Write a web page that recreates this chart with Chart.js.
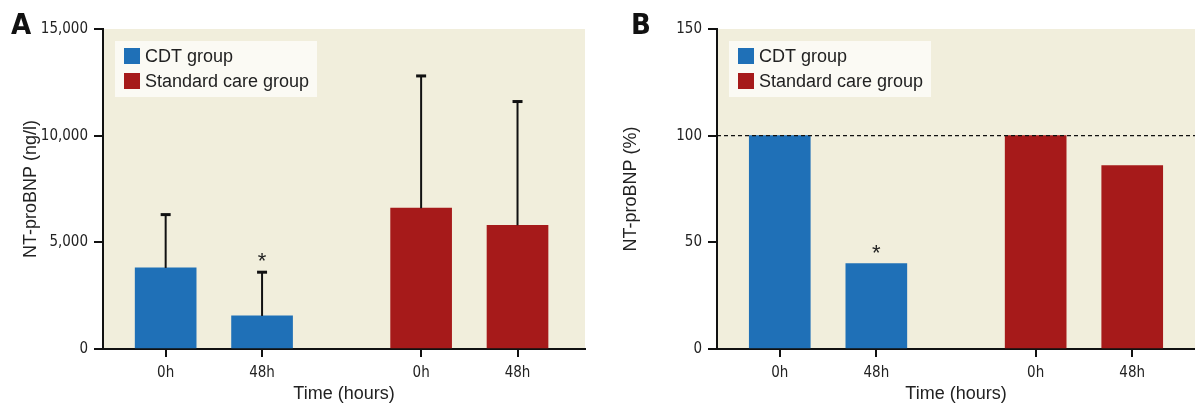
<!DOCTYPE html>
<html>
<head>
<meta charset="utf-8">
<script src="https://cdn.jsdelivr.net/npm/chart.js@4.4.0/dist/chart.umd.min.js"></script>
<style>
  body { margin: 0; background: #fff; width: 1195px; height: 407px; overflow: hidden; position: relative; }
  .panel { position: absolute; top: 0; height: 407px; }
  .tag { position: absolute; top: 7px; line-height: 1; font: bold 29px 'Liberation Sans Narrow', 'DejaVu Sans Condensed', sans-serif; color: #111; }
</style>
</head>
<body>
<div class="panel" style="left:0;width:600px"><canvas id="chartA" width="600" height="407"></canvas></div>
<div class="panel" style="left:600px;width:595px"><canvas id="chartB" width="595" height="407"></canvas></div>
<div class="tag" style="left:11px">A</div>
<div class="tag" style="left:631px">B</div>
<script>
const timepoints = ['0h', '48h'];
const groups = ['CDT group', 'Standard care group'];
const groupColors = ['#1F70B7', '#A61A1A'];

// panel A: NT-proBNP (ng/l), mean and upper SD
const cdtMeanA = [3800, 1550];
const stdMeanA = [6600, 5800];
const cdtErrA = [2500, 2050];
const stdErrA = [6200, 5800];
const cdtSigA = [false, true];
const stdSigA = [false, false];
const yTicksA = [0, 5000, 10000, 15000];

// panel B: NT-proBNP relative to 0h (%)
const cdtPctB = [100, 40];
const stdPctB = [100, 86];
const cdtSigB = [false, true];
const stdSigB = [false, false];
const yTicksB = [0, 50, 100, 150];
const refLineB = 100;

const SANS = "'Liberation Sans', Arial, sans-serif";
const NARROW = "'Liberation Sans Narrow', 'DejaVu Sans Condensed', sans-serif";
const GROUP_GAP = 2.65; // distance between the two groups on the x scale
const xPos = (g, t) => 1 + g * GROUP_GAP + t;

// plot background
const plotBg = {
  id: 'plotBg',
  beforeDraw(chart) {
    const { ctx, chartArea: a } = chart;
    ctx.save();
    ctx.fillStyle = '#F1EEDC';
    ctx.fillRect(a.left, a.top, a.right - a.left, a.bottom - a.top);
    ctx.restore();
  }
};

// error bars, asterisks and the dashed reference line
const extras = {
  id: 'extras',
  afterDatasetsDraw(chart, args, opts) {
    const { ctx, chartArea: a } = chart;
    const yScale = chart.scales.y;
    ctx.save();
    chart.data.datasets.forEach((ds, i) => {
      const meta = chart.getDatasetMeta(i);
      meta.data.forEach((bar, j) => {
        let top = bar.y;
        if (ds.errors) {
          const yTop = yScale.getPixelForValue(ds.data[j].y + ds.errors[j]);
          ctx.strokeStyle = '#111';
          ctx.lineWidth = 2;
          ctx.beginPath();
          ctx.moveTo(bar.x, bar.y);
          ctx.lineTo(bar.x, yTop);
          ctx.stroke();
          ctx.lineWidth = 3;
          ctx.beginPath();
          ctx.moveTo(bar.x - 5, yTop);
          ctx.lineTo(bar.x + 5, yTop);
          ctx.stroke();
          top = yTop;
        }
        if (ds.sig && ds.sig[j]) {
          ctx.fillStyle = '#222';
          ctx.font = '22px ' + SANS;
          ctx.textAlign = 'center';
          ctx.textBaseline = 'middle';
          ctx.fillText('*', bar.x, top - 10);
        }
      });
    });
    if (opts.ref != null) {
      const y = yScale.getPixelForValue(opts.ref);
      ctx.strokeStyle = '#111';
      ctx.lineWidth = 1.3;
      ctx.setLineDash([4, 3]);
      ctx.beginPath();
      ctx.moveTo(a.left, y);
      ctx.lineTo(a.right, y);
      ctx.stroke();
    }
    ctx.restore();
  }
};

// legend box inside the plot area
const boxLegend = {
  id: 'boxLegend',
  afterDraw(chart) {
    const { ctx, chartArea: a } = chart;
    const x = a.left + 12, y = a.top + 12;
    ctx.save();
    ctx.fillStyle = '#FBFAF4';
    ctx.fillRect(x, y, 202, 56);
    ctx.font = '18px ' + SANS;
    ctx.textBaseline = 'middle';
    ctx.textAlign = 'left';
    chart.data.datasets.forEach((ds, i) => {
      const top = y + 7 + i * 25;
      ctx.fillStyle = ds.backgroundColor;
      ctx.fillRect(x + 9, top, 16, 16);
      ctx.fillStyle = '#222';
      ctx.fillText(ds.label, x + 30, top + 9);
    });
    ctx.restore();
  }
};

function makeChart(id, cfg) {
  const datasets = cfg.series.map((vals, g) => ({
    label: groups[g],
    data: vals.map((v, t) => ({ x: xPos(g, t), y: v })),
    errors: cfg.errors ? cfg.errors[g] : null,
    sig: cfg.sigs[g],
    backgroundColor: groupColors[g],
    barThickness: 61,
    grouped: false
  }));
  const xVals = [];
  groups.forEach((_, g) => timepoints.forEach((_, t) => xVals.push(xPos(g, t))));
  const axisGrid = { drawOnChartArea: false, drawTicks: true, color: '#111', lineWidth: 2, offset: false };

  return new Chart(document.getElementById(id), {
    type: 'bar',
    data: { datasets },
    plugins: [plotBg, extras, boxLegend],
    options: {
      responsive: false,
      animation: false,
      layout: { padding: { top: 29, right: cfg.padRight, left: 0, bottom: 0 } },
      plugins: {
        legend: { display: false },
        tooltip: { enabled: false },
        extras: { ref: cfg.ref }
      },
      scales: {
        x: {
          type: 'linear',
          offset: false,
          min: 0.35,
          max: cfg.xMax,
          afterBuildTicks: ax => { ax.ticks = xVals.map(v => ({ value: v })); },
          afterFit: ax => { ax.height = 58; },
          ticks: {
            autoSkip: false,
            maxRotation: 0,
            padding: 7,
            color: '#222',
            font: { family: NARROW, size: 15 },
            callback: (v, i) => timepoints[i % timepoints.length]
          },
          grid: Object.assign({ tickLength: 8 }, axisGrid),
          border: { display: true, color: '#111', width: 2 },
          title: {
            display: true,
            text: 'Time (hours)',
            color: '#222',
            font: { family: SANS, size: 18 },
            padding: { top: 0, bottom: 2 }
          }
        },
        y: {
          min: cfg.yTicks[0],
          max: cfg.yTicks[cfg.yTicks.length - 1],
          afterBuildTicks: ax => { ax.ticks = cfg.yTicks.map(v => ({ value: v })); },
          afterFit: ax => { ax.width = cfg.yWidth; },
          ticks: {
            padding: 6,
            color: '#222',
            font: { family: NARROW, size: 15 },
            callback: v => v.toLocaleString('en-US')
          },
          grid: Object.assign({ tickLength: 9 }, axisGrid),
          border: { display: true, color: '#111', width: 2 },
          title: {
            display: true,
            text: cfg.yTitle,
            color: '#222',
            font: { family: SANS, size: 18 },
            padding: { top: 20, bottom: 0 }
          }
        }
      }
    }
  });
}

makeChart('chartA', {
  series: [cdtMeanA, stdMeanA],
  errors: [cdtErrA, stdErrA],
  sigs: [cdtSigA, stdSigA],
  yTicks: yTicksA,
  yTitle: 'NT-proBNP (ng/l)',
  yWidth: 103,
  padRight: 15,
  xMax: 5.35,
  ref: null
});

makeChart('chartB', {
  series: [cdtPctB, stdPctB],
  errors: null,
  sigs: [cdtSigB, stdSigB],
  yTicks: yTicksB,
  yTitle: 'NT-proBNP (%)',
  yWidth: 117,
  padRight: 0,
  xMax: 5.3,
  ref: refLineB
});
</script>
</body>
</html>
